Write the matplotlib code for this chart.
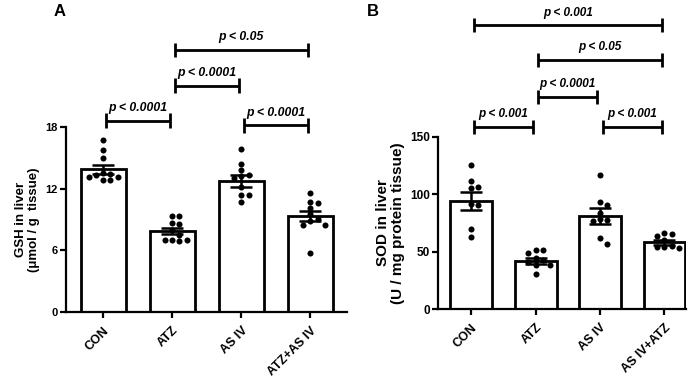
import matplotlib

matplotlib.use("Agg")

import matplotlib.pyplot as plt  # noqa: E402
import numpy as np  # noqa: E402

plt.rcParams["font.family"] = ["Liberation Sans", "DejaVu Sans"]
plt.rcParams["font.weight"] = "bold"

# -- data ----------------------------------------------------------------

gsh_groups = ["CON", "ATZ", "AS IV", "ATZ+AS IV"]
gsh_means = [13.9, 7.85, 12.75, 9.33]
gsh_sem = [0.45, 0.3, 0.6, 0.5]
gsh_points = [
    [16.7, 15.8, 15.0, 13.5, 13.4, 13.3, 13.1, 13.1, 12.8, 12.8],
    [9.3, 9.3, 8.7, 8.6, 8.0, 7.5, 7.0, 7.0, 7.0, 6.9],
    [15.9, 14.4, 13.8, 13.3, 13.2, 13.0, 12.2, 11.4, 11.4, 10.7],
    [11.6, 10.7, 10.6, 10.1, 9.5, 9.0, 8.9, 8.5, 8.5, 5.7],
]
gsh_ticks = [0, 6, 12, 18]
gsh_pairs = [(0, 1, 18.6, "p < 0.0001"), (1, 2, 22.0, "p < 0.0001"),
             (1, 3, 25.5, "p < 0.05"), (2, 3, 18.15, "p < 0.0001")]

sod_groups = ["CON", "ATZ", "AS IV", "AS IV+ATZ"]
sod_means = [94.0, 41.8, 81.2, 58.0]
sod_sem = [8.0, 2.6, 7.0, 2.3]
sod_points = [
    [125.3, 111.4, 106.4, 105.0, 91.0, 90.5, 70.0, 63.0],
    [51.3, 51.0, 49.0, 44.0, 42.5, 41.0, 38.3, 38.0, 30.5],
    [116.6, 93.4, 90.5, 83.3, 78.0, 77.5, 77.0, 61.5, 56.3],
    [65.9, 65.0, 63.5, 60.0, 55.0, 54.2, 54.2, 52.8],
]
sod_ticks = [0, 50, 100, 150]
sod_pairs = [(0, 3, 247.0, "p < 0.001"), (1, 3, 217.0, "p < 0.05"),
             (1, 2, 184.8, "p < 0.0001"), (0, 1, 158.7, "p < 0.001"),
             (2, 3, 158.7, "p < 0.001")]


def swarm_offsets(ax, values, dot_px):
    """Spread equal-ish values sideways so the dots do not overlap."""
    to_px = ax.transData
    x0 = to_px.transform((0, 0))[0]
    x_per_px = 1.0 / (to_px.transform((1, 0))[0] - x0)
    ys = [to_px.transform((0, v))[1] for v in values]
    placed = []
    offsets = [0.0] * len(values)
    for i in np.argsort(values)[::-1]:
        for k in range(0, 12):
            step = (k + 1) // 2 * (1 if k % 2 else -1)
            cand = step * dot_px * 1.3
            if all((cand - px) ** 2 + (ys[i] - py) ** 2 >= (dot_px * 1.1) ** 2 for px, py in placed):
                break
        placed.append((cand, ys[i]))
        offsets[i] = cand * x_per_px
    return offsets


def draw_panel(ax, groups, means, sem, points, ticks, pairs, xlim, ylabel, ylabel_size,
               tick_size, p_size):
    x = np.arange(len(groups))
    ax.set_xlim(*xlim)
    ax.set_ylim(ticks[0], ticks[-1])
    ax.bar(x, means, width=0.65, color="white", edgecolor="black", linewidth=2.0, zorder=2)
    for i, vals in enumerate(points):
        offs = swarm_offsets(ax, vals, 5.5)
        ax.scatter(x[i] + np.array(offs), vals, s=19, color="black", zorder=3, clip_on=False,
                   linewidths=0)
    ax.errorbar(x, means, yerr=sem, fmt="none", ecolor="black", elinewidth=1.8, capsize=8,
                capthick=1.8, zorder=4)

    for spine in ("top", "right"):
        ax.spines[spine].set_visible(False)
    for spine in ("left", "bottom"):
        ax.spines[spine].set_linewidth(1.6)
    ax.set_yticks(ticks)
    ax.set_yticklabels([str(t) for t in ticks], fontsize=tick_size, fontweight="bold")
    ax.set_xticks(x)
    ax.set_xticklabels(groups, rotation=45, ha="right", rotation_mode="anchor",
                       fontsize=9, fontweight="bold")
    ax.tick_params(axis="both", width=1.6, length=4, pad=2)
    ax.tick_params(axis="x", pad=5)
    ax.set_ylabel(ylabel, fontsize=ylabel_size, fontweight="bold", linespacing=1.05, labelpad=4)

    # significance brackets above the plot
    cap = (ticks[-1] - ticks[0]) * 0.04
    for a, b, y, label in pairs:
        xa, xb = a + 0.04, b - 0.04
        ax.plot([xa, xb], [y, y], color="black", lw=2.0, clip_on=False, solid_capstyle="butt")
        for xe in (xa, xb):
            ax.plot([xe, xe], [y - cap, y + cap], color="black", lw=2.0, clip_on=False,
                    solid_capstyle="butt")
        ax.text((xa + xb) / 2, y + cap * 0.9, label, ha="center", va="bottom", fontsize=p_size,
                fontweight="bold", style="italic", clip_on=False)


fig = plt.figure(figsize=(6.99, 3.83), dpi=100)
ax_a = fig.add_axes([0.0944, 0.1854, 0.402, 0.483])
ax_b = fig.add_axes([0.627, 0.1932, 0.354, 0.450])

draw_panel(ax_a, gsh_groups, gsh_means, gsh_sem, gsh_points, gsh_ticks, gsh_pairs,
           (-0.54, 3.53), "GSH in liver\n(μmol / g  tissue)", 9.5, 8, 8.8)
draw_panel(ax_b, sod_groups, sod_means, sod_sem, sod_points, sod_ticks, sod_pairs,
           (-0.51, 3.33), "SOD in liver\n(U / mg protein tissue)", 11, 8.5, 8.5)

fig.text(60 / 699, 1 - 12 / 383, "A", fontsize=12, fontweight="bold", ha="center", va="center")
fig.text(373 / 699, 1 - 12 / 383, "B", fontsize=12, fontweight="bold", ha="center", va="center")

fig.savefig("out.png", dpi=100)
